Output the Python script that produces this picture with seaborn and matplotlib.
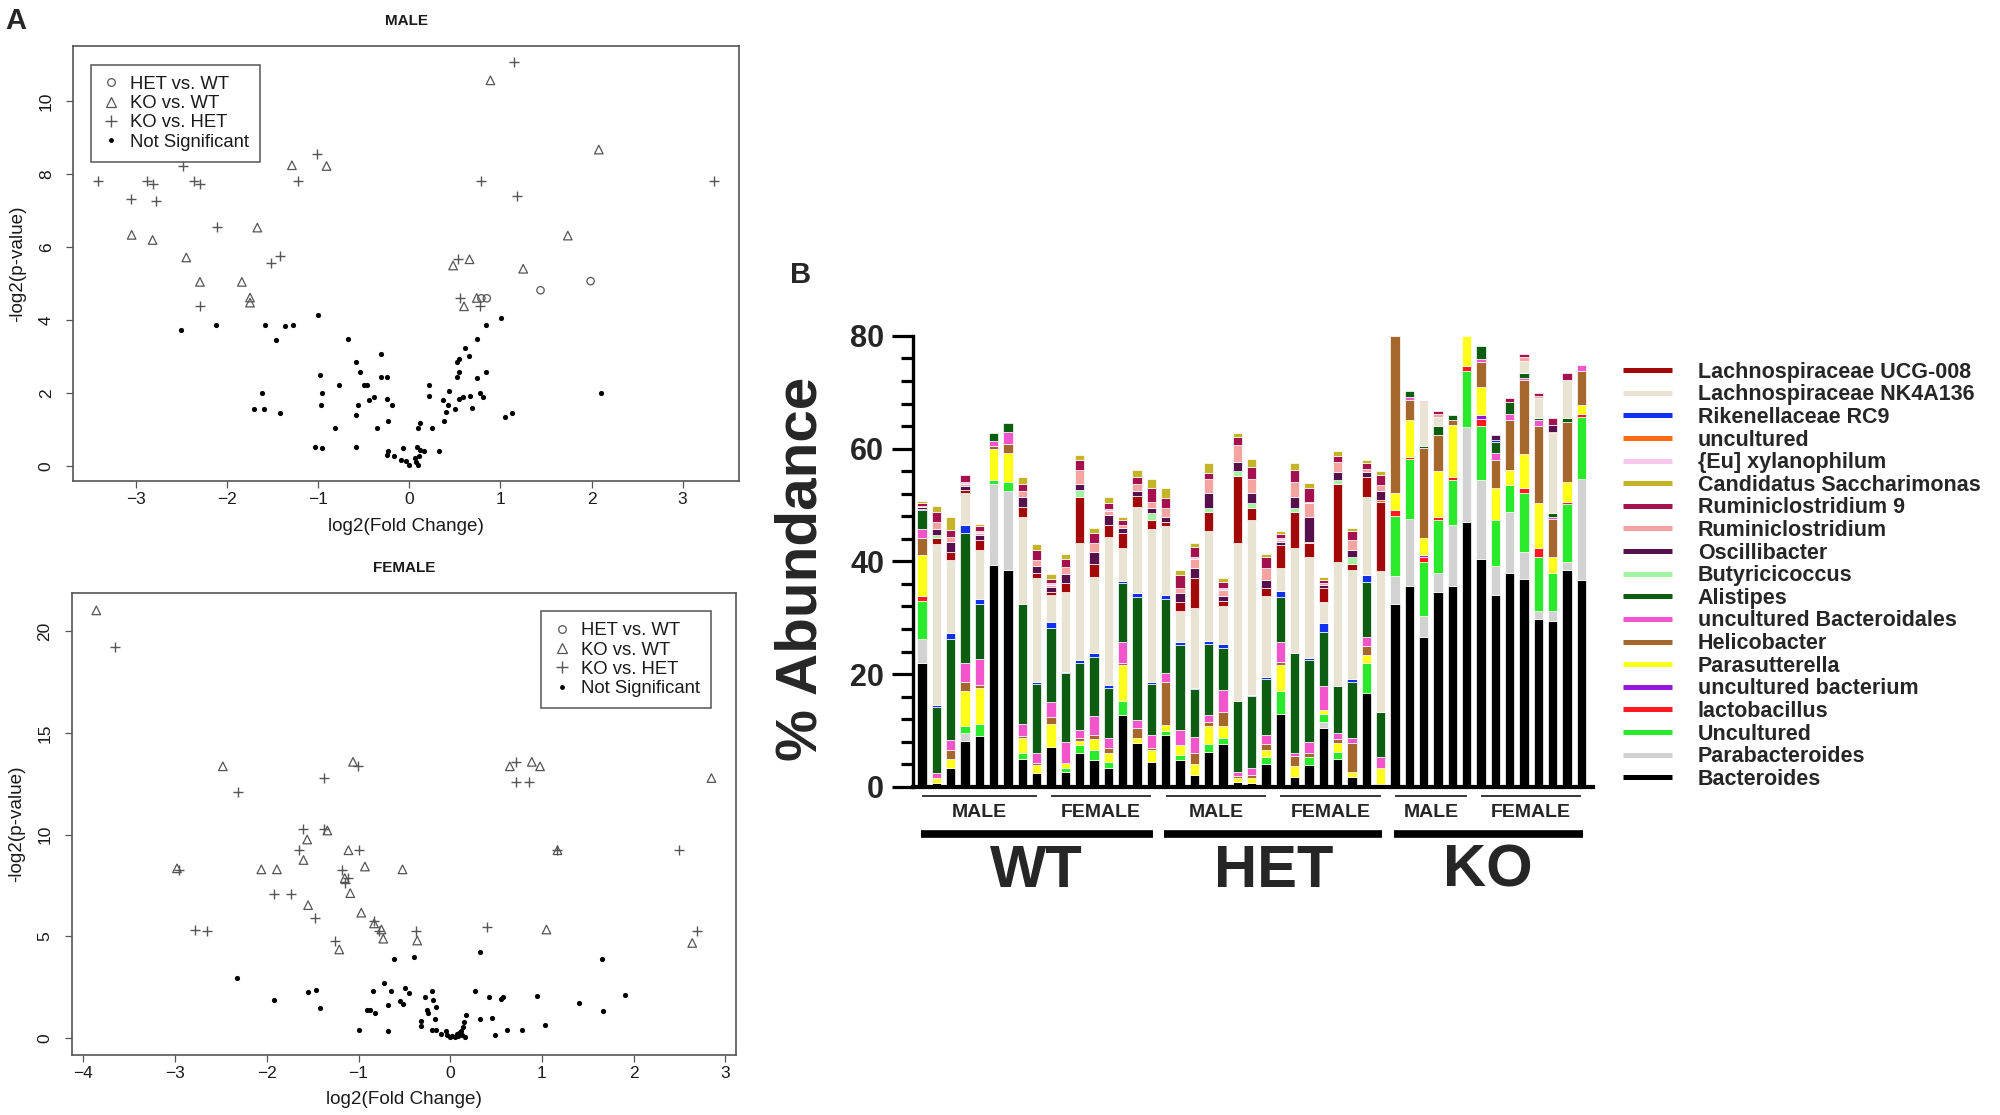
import matplotlib
matplotlib.use("Agg")
import matplotlib.pyplot as plt
from matplotlib.lines import Line2D
from matplotlib.ticker import MultipleLocator
import numpy as np
import pandas as pd
import seaborn as sns

# ---------------- panel A: volcano plots ----------------
MALE_HET_WT_X = [1.99, 1.44, 0.79, 0.85]
MALE_HET_WT_Y = [5.07, 4.82, 4.60, 4.60]
MALE_KO_WT_X = [0.89, 2.08, -1.29, -0.91, -3.05, -2.82, -1.67, -2.45, -2.30, -1.84,
                -1.75, -1.75, 1.74, 1.25, 0.48, 0.66, 0.60, 0.74]
MALE_KO_WT_Y = [10.58, 8.68, 8.25, 8.23, 6.34, 6.20, 6.54, 5.72, 5.05, 5.05,
                4.62, 4.48, 6.32, 5.41, 5.50, 5.67, 4.38, 4.61]
MALE_KO_HET_X = [1.15, -3.42, -3.06, -2.88, -2.82, -2.78, -2.49, -2.36, -2.30, -2.11,
                 -2.30, -1.52, -1.42, -1.01, -1.22, 0.79, 1.18, 0.53, 0.56, 0.78, 3.35]
MALE_KO_HET_Y = [11.09, 7.83, 7.32, 7.83, 7.74, 7.26, 8.23, 7.83, 7.74, 6.56,
                 4.38, 5.58, 5.77, 8.56, 7.83, 7.83, 7.41, 5.67, 4.61, 4.40, 7.83]
MALE_NS_X = [-2.51, -2.12, -1.59, -1.37, -1.28, -1.46, -1.00, 1.01, 0.84, 0.74,
             -0.67, -0.31, 0.61, 0.66, 0.55, 0.52, 0.55, 0.84, 0.52, 0.74,
             -0.59, -0.54, -0.98, -0.31, -0.25, -0.77, -0.50, -0.47, 0.22, -1.62,
             -0.96, 2.10, 0.44, 0.21, 0.77, 0.81, 0.67, 0.59, 0.54, 0.37,
             -0.39, -0.44, -0.25, -0.19, -0.56, -0.97, -1.71, -1.60, 0.50, 0.69,
             0.42, -1.42, 0.40, 1.13, 1.05, -0.59, 0.38, -0.23, 0.12, -0.82,
             -0.36, 0.10, 0.25, -1.04, -0.96, -0.59, -0.24, -0.25, -0.17, -0.07,
             0.08, 0.12, 0.16, 0.33, -0.09, -0.04, 0.00, 0.06, 0.07, 0.09, 0.11]
MALE_NS_Y = [3.72, 3.87, 3.87, 3.84, 3.87, 3.46, 4.13, 4.06, 3.87, 3.47,
             3.47, 3.08, 3.23, 3.02, 2.94, 2.86, 2.57, 2.57, 2.43, 2.40,
             2.84, 2.57, 2.49, 2.45, 2.45, 2.23, 2.23, 2.23, 2.21, 1.99,
             1.99, 1.99, 2.06, 1.92, 1.99, 1.90, 1.92, 1.90, 1.83, 1.80,
             1.90, 1.80, 1.85, 1.68, 1.68, 1.66, 1.56, 1.56, 1.56, 1.58,
             1.66, 1.44, 1.49, 1.46, 1.34, 1.40, 1.22, 1.22, 1.17, 1.05,
             1.03, 1.03, 1.03, 0.53, 0.48, 0.53, 0.40, 0.29, 0.26, 0.48,
             0.53, 0.45, 0.40, 0.40, 0.16, 0.13, 0.02, 0.21, 0.12, 0.02, 0.26]

FEMALE_HET_WT_X = []
FEMALE_HET_WT_Y = []
FEMALE_KO_WT_X = [-3.86, -2.48, -1.06, 0.65, 0.89, 0.98, 2.85, -2.98, -2.06, -1.89,
                  -1.34, -1.56, -1.11, -1.60, -0.93, -0.52, -1.15, -1.09, -1.55, -0.97,
                  -0.83, -0.75, -0.73, -0.36, -1.21, 1.05, 1.17, 2.64]
FEMALE_KO_WT_Y = [21.03, 13.36, 13.58, 13.36, 13.58, 13.36, 12.78, 8.34, 8.29, 8.29,
                  10.20, 9.76, 9.23, 8.75, 8.43, 8.29, 7.86, 7.12, 6.53, 6.16,
                  5.63, 5.33, 4.88, 4.79, 4.35, 5.33, 9.23, 4.67]
FEMALE_KO_HET_X = [-3.66, -2.31, -1.38, -1.01, 0.72, 0.72, 0.86, 2.50, 2.69, -1.61,
                   -1.38, -1.65, -0.99, -1.18, -1.12, -1.15, -1.92, -1.74, -1.47, -2.96,
                   -2.78, -2.65, -1.26, -0.78, -0.37, 0.40, 1.17, -0.83]
FEMALE_KO_HET_Y = [19.25, 12.08, 12.78, 13.36, 13.58, 12.60, 12.60, 9.23, 5.24, 10.26,
                   10.29, 9.23, 9.23, 8.25, 7.86, 7.63, 7.10, 7.10, 5.91, 8.25,
                   5.33, 5.24, 4.79, 5.24, 5.24, 5.45, 9.23, 5.74]
FEMALE_NS_X = [-2.33, -1.92, -1.55, -1.46, -1.42, -1.00, -0.61, -0.40, -0.72, -0.84,
               -0.65, -0.49, -0.45, -0.55, -0.51, -0.68, -0.91, -0.87, -0.82, -0.68,
               -0.27, -0.20, -0.19, -0.25, -0.24, -0.16, -0.32, -0.32, -0.17, -0.20,
               -0.15, -0.05, -0.04, 0.00, 0.05, 0.07, 0.12, 0.14, 0.15, 0.17,
               0.16, 0.33, 0.32, 0.27, 0.42, 0.46, 0.55, 0.58, 0.49, 0.62,
               0.78, 0.95, 1.03, 1.40, 1.66, 1.67, 1.91, 0.02, 0.08, 0.10, -0.10, 0.13]
FEMALE_NS_Y = [2.95, 1.86, 2.24, 2.36, 1.47, 0.41, 3.87, 3.96, 2.72, 2.31,
               2.31, 2.45, 2.22, 1.83, 1.65, 1.61, 1.35, 1.35, 1.24, 0.35,
               2.00, 2.31, 1.86, 1.35, 1.21, 1.51, 0.85, 0.59, 0.94, 0.41,
               0.41, 0.32, 0.14, 0.05, 0.02, 0.18, 0.32, 0.53, 0.76, 1.12,
               0.05, 0.94, 4.22, 2.32, 2.00, 0.99, 1.92, 2.00, 0.12, 0.37,
               0.41, 2.04, 0.64, 1.74, 3.87, 1.30, 2.13, 0.10, 0.08, 0.25, 0.20, 0.15]

VOLCANO_LABELS = ["HET vs. WT", "KO vs. WT", "KO vs. HET", "Not Significant"]

# ---------------- panel B: stacked relative abundance ----------------
# bars left to right: WT male, WT female, HET male, HET female, KO male, KO female
GROUP_SIZES = [9, 8, 8, 8, 6, 8]
SEX_LABELS = ["MALE", "FEMALE", "MALE", "FEMALE", "MALE", "FEMALE"]
GENOTYPES = ["WT", "HET", "KO"]

BACTEROIDES = [22.0, 0.6, 3.3, 8.2, 9.0, 39.3, 38.5, 4.9, 2.4, 7.1,
               2.7, 5.9, 4.7, 3.3, 12.7, 7.7, 4.4, 9.2, 4.7, 2.1,
               6.2, 7.6, 0.9, 0.7, 4.1, 12.9, 1.7, 3.8, 10.4, 4.9,
               1.8, 16.7, 0.5, 32.5, 35.7, 26.6, 34.6, 35.7, 47.0, 40.5,
               34.0, 38.0, 36.8, 29.7, 29.4, 38.5, 36.7]
PARABACTEROIDES = [4.3, 0, 0, 1.3, 0, 14.5, 13.9, 0, 0, 0,
                   0, 0, 0, 0, 0, 0, 0, 0, 0, 0,
                   0, 0, 0, 0, 0, 0, 0, 0, 1.1, 0,
                   0, 0, 0, 4.9, 11.8, 3.7, 3.3, 10.7, 16.8, 13.9,
                   5.2, 10.8, 4.9, 1.4, 1.7, 1.3, 17.9]
UNCULTURED_G = [6.7, 0, 0, 1.2, 2.2, 0.7, 1.6, 1.0, 0, 0,
                0.6, 1.5, 1.8, 1.1, 2.6, 0, 0, 0.7, 0.9, 0,
                1.4, 1.0, 0, 0, 1.1, 4.1, 0, 1.4, 1.4, 1.3,
                0, 5.2, 0, 10.6, 10.6, 9.6, 9.4, 8.1, 9.9, 9.6,
                8.1, 4.8, 10.5, 9.7, 6.8, 10.4, 11.1]
LACTOBACILLUS = [0.8, 0, 0, 0, 0, 0, 0, 0, 0, 0,
                 0, 0, 0, 0, 0, 0, 0, 0, 0, 0,
                 0, 0, 0, 0, 0, 0, 0, 0, 0, 0,
                 0, 0, 0, 1.1, 0.5, 0.9, 0.5, 0.4, 1.0, 1.2,
                 0, 0, 0.8, 1.5, 0, 0.4, 0.5]
UNC_BACTERIUM = [0, 0, 0, 0, 0, 0, 0, 0, 0, 0,
                 0, 0, 0, 0, 0, 0, 0, 0, 0, 0,
                 0, 0, 0, 0, 0, 0, 0, 0, 0, 0,
                 0, 0, 0, 0, 0, 0.3, 0, 0, 0, 0.8,
                 0, 0, 0, 0, 0, 0, 0]
PARASUTTERELLA = [7.4, 0.9, 1.6, 6.3, 6.4, 5.4, 5.3, 2.7, 1.4, 4.1,
                  1.0, 0.8, 1.9, 1.5, 6.3, 0.9, 2.1, 1.0, 1.8, 2.0,
                  3.1, 2.1, 0.6, 0.8, 1.4, 4.6, 1.9, 0, 0.7, 1.5,
                  0.9, 1.5, 2.8, 3.1, 6.4, 3.0, 8.3, 9.3, 5.3, 5.0,
                  5.8, 2.6, 6.1, 8.1, 2.9, 3.5, 1.6]
HELICOBACTER = [2.9, 0, 1.6, 1.5, 0.4, 0.5, 1.6, 0.4, 0.4, 1.2,
                0, 0.4, 0.8, 1.0, 0.3, 1.8, 0.3, 7.7, 0, 1.9,
                0.8, 2.6, 0.4, 0.5, 1.0, 0.6, 1.8, 0.8, 0, 0.7,
                5.0, 1.6, 0, 27.8, 3.6, 16.0, 6.3, 0.9, 0, 4.4,
                4.9, 8.9, 13.0, 13.6, 6.8, 10.7, 6.0]
UNC_BACTEROIDALES = [1.6, 1.0, 1.8, 3.5, 4.6, 1.0, 2.1, 2.1, 1.8, 2.7,
                     3.7, 1.5, 3.3, 1.7, 3.8, 1.4, 2.4, 1.5, 2.7, 2.9,
                     1.2, 3.9, 0.8, 1.3, 1.6, 3.5, 0.6, 2.0, 4.2, 1.1,
                     0.9, 1.5, 2.0, 0, 0.5, 0, 0, 0, 0, 0.5,
                     1.2, 1.1, 0.4, 1.0, 0.3, 0, 1.1]
ALISTIPES = [3.4, 11.7, 18.0, 23.1, 9.9, 1.4, 1.6, 21.3, 12.2, 13.0,
             12.2, 11.8, 10.6, 8.9, 10.4, 21.9, 9.1, 13.2, 15.0, 8.4,
             12.7, 7.4, 12.6, 12.8, 9.9, 8.0, 17.7, 14.5, 9.7, 8.3,
             9.9, 9.9, 8.0, 0, 1.2, 0.4, 1.6, 0.9, 0, 2.3,
             1.9, 2.1, 1.0, 0.4, 0.7, 0.6, 0]
RIKENELLACEAE = [0.2, 0.3, 0.9, 1.3, 0.8, 0, 0, 0, 0.4, 1.2,
                 0.2, 0.6, 0.6, 0.5, 0.4, 0.7, 0.3, 0.7, 0.5, 0.2,
                 0.5, 0.8, 0, 0.2, 0.3, 1.1, 0, 0.3, 1.5, 0,
                 0.7, 1.2, 0, 0, 0, 0, 0, 0, 0, 0,
                 0.4, 0, 0, 0, 0, 0, 0]
NK4A136 = [0, 28.6, 13.0, 5.7, 8.7, 0, 0, 15.5, 18.4, 4.7,
           14.2, 20.7, 13.6, 26.4, 5.8, 15.3, 27.1, 12.2, 5.5, 14.2,
           19.4, 6.6, 28.0, 31.0, 14.4, 4.0, 18.6, 17.9, 3.8, 22.0,
           19.3, 13.9, 25.0, 0, 0, 7.7, 1.7, 0, 0, 0,
           0, 0, 2.1, 3.5, 14.1, 6.8, 0]
UCG008 = [0, 1.0, 1.4, 0.6, 1.8, 0, 0, 1.8, 0.9, 0.6,
          1.5, 8.3, 2.3, 2.0, 2.7, 1.9, 1.6, 0.8, 1.7, 5.3,
          3.5, 1.0, 11.8, 2.1, 1.4, 4.1, 6.5, 2.5, 2.4, 14.0,
          1.1, 3.5, 12.3, 0, 0, 0, 0, 0, 0, 0,
          0, 0, 0, 0, 0, 0, 0]
UNCULTURED_O = [0, 0, 0, 0, 0, 0, 0, 0, 0, 0,
                0, 0, 0, 0, 0, 0, 0, 0, 0, 0,
                0, 0, 0, 0, 0, 0, 0, 0.3, 0, 0,
                0, 0, 0.3, 0, 0, 0, 0, 0, 0, 0,
                0, 0, 0, 0, 0.3, 0, 0]
BUTYRICICOCCUS = [0, 0.5, 0, 0, 0, 0, 0, 0, 0, 0,
                  0, 1.2, 0, 0, 0, 0, 1.2, 0, 0, 0,
                  0.6, 0, 1.0, 0.9, 0, 0, 0.6, 0, 0, 0.6,
                  1.2, 0, 0, 0, 0, 0, 0, 0, 0, 0,
                  0, 0, 0, 0, 0, 0, 0]
OSCILLIBACTER = [0.3, 1.1, 1.8, 0.6, 0.9, 0, 0, 1.8, 1.2, 0.8,
                 1.7, 1.1, 2.1, 1.8, 0.9, 0.8, 0.9, 0.9, 1.5, 1.8,
                 2.7, 0.8, 1.6, 1.9, 1.5, 0.5, 2.1, 4.4, 0.6, 1.5,
                 1.2, 0.8, 1.5, 0, 0, 0, 0, 0, 0, 0,
                 1.0, 0, 0, 0, 1.2, 0, 0]
RUMINICLOSTRIDIUM = [0.3, 1.3, 1.0, 0.5, 0.4, 0, 0, 1.0, 1.1, 0.4,
                     1.2, 2.4, 1.6, 0.8, 0.6, 1.4, 1.2, 1.5, 1.0, 1.7,
                     2.5, 1.2, 3.0, 2.5, 2.1, 0.4, 2.6, 2.4, 0.3, 1.8,
                     1.8, 0.6, 1.2, 0, 0, 0, 0.5, 0, 0, 0,
                     0, 0, 0.6, 0.5, 0, 0, 0]
XYLANOPHILUM = [0, 0, 0, 0.3, 0.3, 0, 0, 0, 0, 0.3,
                0, 0, 0, 0.3, 0, 0, 0, 0, 0, 0.3,
                0, 0.3, 0, 0, 0, 0.3, 0, 0.3, 0, 0,
                0, 0, 0, 0, 0, 0, 0, 0, 0, 0,
                0, 0, 0, 0, 0, 0, 0]
RUMINICLOSTRIDIUM9 = [0.5, 1.7, 1.2, 1.2, 0.8, 0, 0, 1.3, 1.8, 0.8,
                      1.4, 1.8, 1.7, 1.0, 0.8, 1.2, 2.4, 1.8, 2.3, 1.8,
                      1.1, 1.1, 1.4, 2.1, 2.0, 0.7, 2.1, 2.4, 0.6, 1.0,
                      1.5, 1.0, 1.8, 0, 0, 0.3, 0.4, 0, 0, 0,
                      0, 0.6, 0.6, 0.5, 1.3, 1.3, 0]
SACCHARIMONAS = [0.3, 1.1, 2.3, 0, 0.4, 0, 0, 1.2, 1.1, 0.8,
                 0.9, 0.9, 0.9, 1.2, 0.6, 1.2, 1.7, 1.8, 0.9, 0.6,
                 1.8, 0.7, 0.7, 1.3, 0.5, 0.6, 1.3, 0.9, 0.6, 0.8,
                 0.6, 0.5, 0.6, 0, 0, 0, 0, 0, 0, 0,
                 0, 0, 0, 0, 0, 0, 0]

# legend order (top to bottom) with colours
LEGEND_TAXA = ["Lachnospiraceae UCG-008", "Lachnospiraceae NK4A136", "Rikenellaceae RC9",
               "uncultured", "{Eu] xylanophilum", "Candidatus Saccharimonas",
               "Ruminiclostridium 9", "Ruminiclostridium", "Oscillibacter", "Butyricicoccus",
               "Alistipes", "uncultured Bacteroidales", "Helicobacter", "Parasutterella",
               "uncultured bacterium", "lactobacillus", "Uncultured", "Parabacteroides",
               "Bacteroides"]
TAXA_COLORS = {
    "Lachnospiraceae UCG-008": "#A30808", "Lachnospiraceae NK4A136": "#E9E3D3",
    "Rikenellaceae RC9": "#1030F0", "uncultured": "#FF6A12",
    "{Eu] xylanophilum": "#F9C6EE", "Candidatus Saccharimonas": "#C4B428",
    "Ruminiclostridium 9": "#A3124E", "Ruminiclostridium": "#F6A4A2",
    "Oscillibacter": "#56104C", "Butyricicoccus": "#A4F2A4",
    "Alistipes": "#0C5C12", "uncultured Bacteroidales": "#F255CC",
    "Helicobacter": "#A5672B", "Parasutterella": "#FFFF1A",
    "uncultured bacterium": "#9518DC", "lactobacillus": "#FF1A22",
    "Uncultured": "#2BEA2B", "Parabacteroides": "#D2D2D2", "Bacteroides": "#000000",
}

abundance = pd.DataFrame({
    "Bacteroides": BACTEROIDES,
    "Parabacteroides": PARABACTEROIDES,
    "Uncultured": UNCULTURED_G,
    "lactobacillus": LACTOBACILLUS,
    "uncultured bacterium": UNC_BACTERIUM,
    "Parasutterella": PARASUTTERELLA,
    "Helicobacter": HELICOBACTER,
    "uncultured Bacteroidales": UNC_BACTEROIDALES,
    "Alistipes": ALISTIPES,
    "Rikenellaceae RC9": RIKENELLACEAE,
    "Lachnospiraceae NK4A136": NK4A136,
    "Lachnospiraceae UCG-008": UCG008,
    "uncultured": UNCULTURED_O,
    "Butyricicoccus": BUTYRICICOCCUS,
    "Oscillibacter": OSCILLIBACTER,
    "Ruminiclostridium": RUMINICLOSTRIDIUM,
    "{Eu] xylanophilum": XYLANOPHILUM,
    "Ruminiclostridium 9": RUMINICLOSTRIDIUM9,
    "Candidatus Saccharimonas": SACCHARIMONAS,
})  # column order = stacking order, bottom to top

sns.set_theme(style="white")
plt.rcParams["font.family"] = ["Liberation Sans", "DejaVu Sans"]

BOX = "#555555"
MARK = "#555555"

fig = plt.figure(figsize=(20, 11.15), dpi=100)


def r_range(values):
    lo, hi = min(values), max(values)
    pad = 0.04 * (hi - lo)
    return lo - pad, hi + pad


def draw_volcano(ax, het, kowt, kohet, ns, title, xticks, yticks, legend_anchor, xlabel_y):
    if het[0]:
        sns.scatterplot(x=het[0], y=het[1], ax=ax, marker="o", s=28, color=MARK,
                        facecolor="none", edgecolor=MARK, linewidth=0.9)
    sns.scatterplot(x=kowt[0], y=kowt[1], ax=ax, marker="^", s=38, color=MARK,
                    facecolor="none", edgecolor=MARK, linewidth=0.9)
    sns.scatterplot(x=kohet[0], y=kohet[1], ax=ax, marker="+", s=50, color=MARK,
                    linewidth=1.0)
    sns.scatterplot(x=ns[0], y=ns[1], ax=ax, marker="o", s=14, color="black",
                    edgecolor="black", linewidth=0)

    all_x = het[0] + kowt[0] + kohet[0] + ns[0]
    all_y = het[1] + kowt[1] + kohet[1] + ns[1]
    ax.set_xlim(*r_range(all_x))
    ax.set_ylim(*r_range(all_y))
    ax.set_xticks(xticks)
    ax.set_yticks(yticks)
    ax.tick_params(direction="out", length=5, width=0.9, color=BOX, labelsize=12.5,
                   labelcolor="#1a1a1a", bottom=True, left=True)
    ax.tick_params(axis="x", pad=3)
    ax.tick_params(axis="y", pad=9, labelrotation=90)
    for lab in ax.get_yticklabels():
        lab.set_va("center")
    for sp in ax.spines.values():
        sp.set_visible(True)
        sp.set_color(BOX)
        sp.set_linewidth(1.2)

    ax.set_title(title, fontsize=11, fontweight="bold", pad=15, color="#1a1a1a")
    ax.set_xlabel("log2(Fold Change)", fontsize=13.6, color="#1a1a1a", va="center")
    ax.set_ylabel("-log2(p-value)", fontsize=13.6, color="#1a1a1a", va="center")
    ax.xaxis.set_label_coords(0.5, xlabel_y)
    ax.yaxis.set_label_coords(-0.083, 0.5)

    handles = [
        Line2D([0], [0], ls="", marker="o", ms=5.5, mfc="none", mec=MARK, mew=0.9),
        Line2D([0], [0], ls="", marker="^", ms=6.5, mfc="none", mec=MARK, mew=0.9),
        Line2D([0], [0], ls="", marker="+", ms=8, color=MARK, mew=1.0),
        Line2D([0], [0], ls="", marker="o", ms=3.5, color="black", mew=0),
    ]
    leg = ax.legend(handles, VOLCANO_LABELS, loc="upper left", bbox_to_anchor=legend_anchor,
                    borderaxespad=0, frameon=True, fancybox=False, edgecolor=BOX,
                    framealpha=1, fontsize=13.3, handlelength=1.0, handletextpad=0.55,
                    borderpad=0.6, labelspacing=0.12)
    leg.get_frame().set_linewidth(1.1)
    for t in leg.get_texts():
        t.set_color("#1a1a1a")


ax_m = fig.add_axes([0.03665, 0.5683, 0.3329, 0.3908])
draw_volcano(ax_m, (MALE_HET_WT_X, MALE_HET_WT_Y), (MALE_KO_WT_X, MALE_KO_WT_Y),
             (MALE_KO_HET_X, MALE_KO_HET_Y), (MALE_NS_X, MALE_NS_Y), "MALE",
             [-3, -2, -1, 0, 1, 2, 3], [0, 2, 4, 6, 8, 10], (0.026, 0.956), -0.103)

ax_f = fig.add_axes([0.03585, 0.0542, 0.3322, 0.4137])
draw_volcano(ax_f, (FEMALE_HET_WT_X, FEMALE_HET_WT_Y), (FEMALE_KO_WT_X, FEMALE_KO_WT_Y),
             (FEMALE_KO_HET_X, FEMALE_KO_HET_Y), (FEMALE_NS_X, FEMALE_NS_Y), "FEMALE",
             [-4, -3, -2, -1, 0, 1, 2, 3], [0, 5, 10, 15, 20], (0.707, 0.961), -0.098)

fig.text(0.008, 0.981, "A", fontsize=21, fontweight="bold", ha="center", va="center")

# ---------------- panel B ----------------
ax_b = fig.add_axes([0.4567, 0.2944, 0.3397, 0.4043])
xpos = np.arange(len(abundance))
bottom = np.zeros(len(abundance))
for taxon in abundance.columns:
    vals = abundance[taxon].to_numpy(dtype=float)
    keep = vals > 0
    ax_b.bar(xpos[keep], vals[keep], bottom=bottom[keep], width=0.65,
             color=TAXA_COLORS[taxon], edgecolor="white", linewidth=0.5, zorder=2)
    bottom += vals

ax_b.set_ylim(0, 80)
ax_b.yaxis.set_major_locator(MultipleLocator(20))
ax_b.yaxis.set_minor_locator(MultipleLocator(4))
ax_b.set_xticks([])
ax_b.tick_params(axis="y", which="major", direction="out", length=15, width=2.3,
                 color="black", labelsize=22, pad=6, left=True)
ax_b.tick_params(axis="y", which="minor", direction="out", length=8.5, width=2.3,
                 color="black", left=True)
for lab in ax_b.get_yticklabels():
    lab.set_fontweight("bold")
for side in ["top", "right"]:
    ax_b.spines[side].set_visible(False)
ax_b.spines["left"].set_linewidth(2.4)
ax_b.spines["bottom"].set_linewidth(3.0)
ax_b.spines["left"].set_color("black")
ax_b.spines["bottom"].set_color("black")
ax_b.spines["bottom"].set_zorder(3)
ax_b.set_ylabel("% Abundance", fontsize=42, fontweight="bold", va="center")
ax_b.yaxis.set_label_coords(-0.164, 0.483)

trans = ax_b.get_xaxis_transform()
starts = np.cumsum([0] + GROUP_SIZES[:-1])
for start, size, sex in zip(starts, GROUP_SIZES, SEX_LABELS):
    first, last = start, start + size - 1
    ax_b.plot([first, last], [-0.021, -0.021], transform=trans, clip_on=False,
              color="black", lw=1.1, solid_capstyle="butt")
    ax_b.text((first + last) / 2, -0.057, sex, transform=trans, ha="center", va="center",
              fontsize=14, fontweight="bold")
for g, name in enumerate(GENOTYPES):
    first = starts[2 * g]
    last = starts[2 * g + 1] + GROUP_SIZES[2 * g + 1] - 1
    ax_b.plot([first - 0.1, last + 0.1], [-0.105, -0.105], transform=trans, clip_on=False,
              color="black", lw=5.5, solid_capstyle="butt")
    ax_b.text((first + last) / 2, -0.188, name, transform=trans, ha="center", va="center",
              fontsize=43, fontweight="bold")

ax_b.set_xlim(-0.607, 46.8)

handles = [Line2D([0], [0], color=TAXA_COLORS[t], lw=3.6, solid_capstyle="butt")
           for t in LEGEND_TAXA]
fig.legend(handles, LEGEND_TAXA, loc="upper left", bbox_to_anchor=(0.8115, 0.6756),
           frameon=False, prop={"weight": "bold", "size": 15.5}, handlelength=2.27,
           handletextpad=1.2, labelspacing=0.075, borderpad=0, borderaxespad=0)

fig.text(0.4005, 0.753, "B", fontsize=21, fontweight="bold", ha="center", va="center")

fig.savefig("out.png", dpi=100, facecolor="white")
